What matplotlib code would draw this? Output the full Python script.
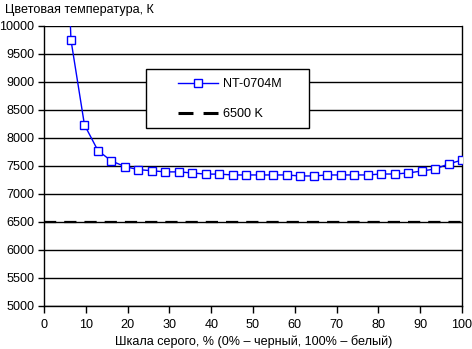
#!/usr/bin/env python3
"""Colour temperature vs grey level, NT-0704M against the 6500 K reference."""

import matplotlib

matplotlib.use("Agg")
import matplotlib.pyplot as plt  # noqa: E402
from matplotlib.patches import Rectangle  # noqa: E402

# grey level steps (% of full scale), 32 steps -> 100/31 per step
grey_pct = [100 * k / 31 for k in range(1, 32)]
temp_nt0704m = [
    16000, 9750, 8235, 7775, 7590, 7490, 7435, 7415, 7395, 7395,
    7375, 7355, 7355, 7340, 7340, 7340, 7340, 7340, 7322, 7322,
    7340, 7340, 7340, 7340, 7357, 7357, 7375, 7410, 7446, 7536,
    7607,
]
ref_x = [0, 100]
ref_temp = [6500, 6500]

y_ticks = list(range(5000, 10001, 500))
x_ticks = list(range(0, 101, 10))

FS = 9.1
plt.rcParams["font.family"] = ["Liberation Sans", "DejaVu Sans"]
plt.rcParams["font.size"] = FS

W, H = 472, 349
fig = plt.figure(figsize=(W / 100, H / 100), dpi=100)
ax = fig.add_axes([44 / W, 1 - 306 / H, (462 - 44) / W, (306 - 26) / H])

ax.plot(grey_pct, temp_nt0704m, color="#0000ff", linewidth=1.0,
        marker="s", markersize=6, markerfacecolor="white",
        markeredgecolor="#0000ff", markeredgewidth=1.0,
        label="NT-0704M", zorder=3)
ax.plot(ref_x, ref_temp, color="black", linewidth=1.6,
        dashes=(5.5, 3.6), label="6500 K", zorder=2)

ax.set_xlim(0, 100)
ax.set_ylim(5000, 10000)
ax.set_xticks(x_ticks)
ax.set_yticks(y_ticks)
ax.grid(True, axis="y", color="black", linewidth=1.0)
ax.set_axisbelow(True)
ax.spines["top"].set_visible(False)
for side in ("left", "right", "bottom"):
    ax.spines[side].set_color("black")
    ax.spines[side].set_linewidth(1.0)
ax.tick_params(axis="y", length=4, width=1, pad=3, colors="black")
ax.tick_params(axis="x", length=5, width=1, pad=4, colors="black")

# legend box (white, black frame) over the gridlines
box = Rectangle((146 / W, 1 - 128 / H), (309 - 146) / W, (128 - 69) / H,
                transform=fig.transFigure, facecolor="white",
                edgecolor="black", linewidth=1.0, zorder=5)
fig.patches.append(box)
leg = fig.legend(loc="upper left", bbox_to_anchor=(178 / W, 1 - 78 / H),
                 frameon=False, handlelength=3.15, handletextpad=0.4,
                 labelspacing=1.45, borderpad=0, borderaxespad=0,
                 fontsize=FS)
leg.set_zorder(6)
ref_handle = leg.get_lines()[1]
ref_handle.set_linewidth(2.2)
ref_handle.set_dashes((4.9, 3.3))

fig.text(5 / W, 1 - 10 / H, "Цветовая температура, К", ha="left", va="center")
fig.text(254 / W, 1 - 342 / H,
         "Шкала серого, % (0% – черный, 100% – белый)",
         ha="center", va="center")

fig.savefig("out.png", dpi=100)
